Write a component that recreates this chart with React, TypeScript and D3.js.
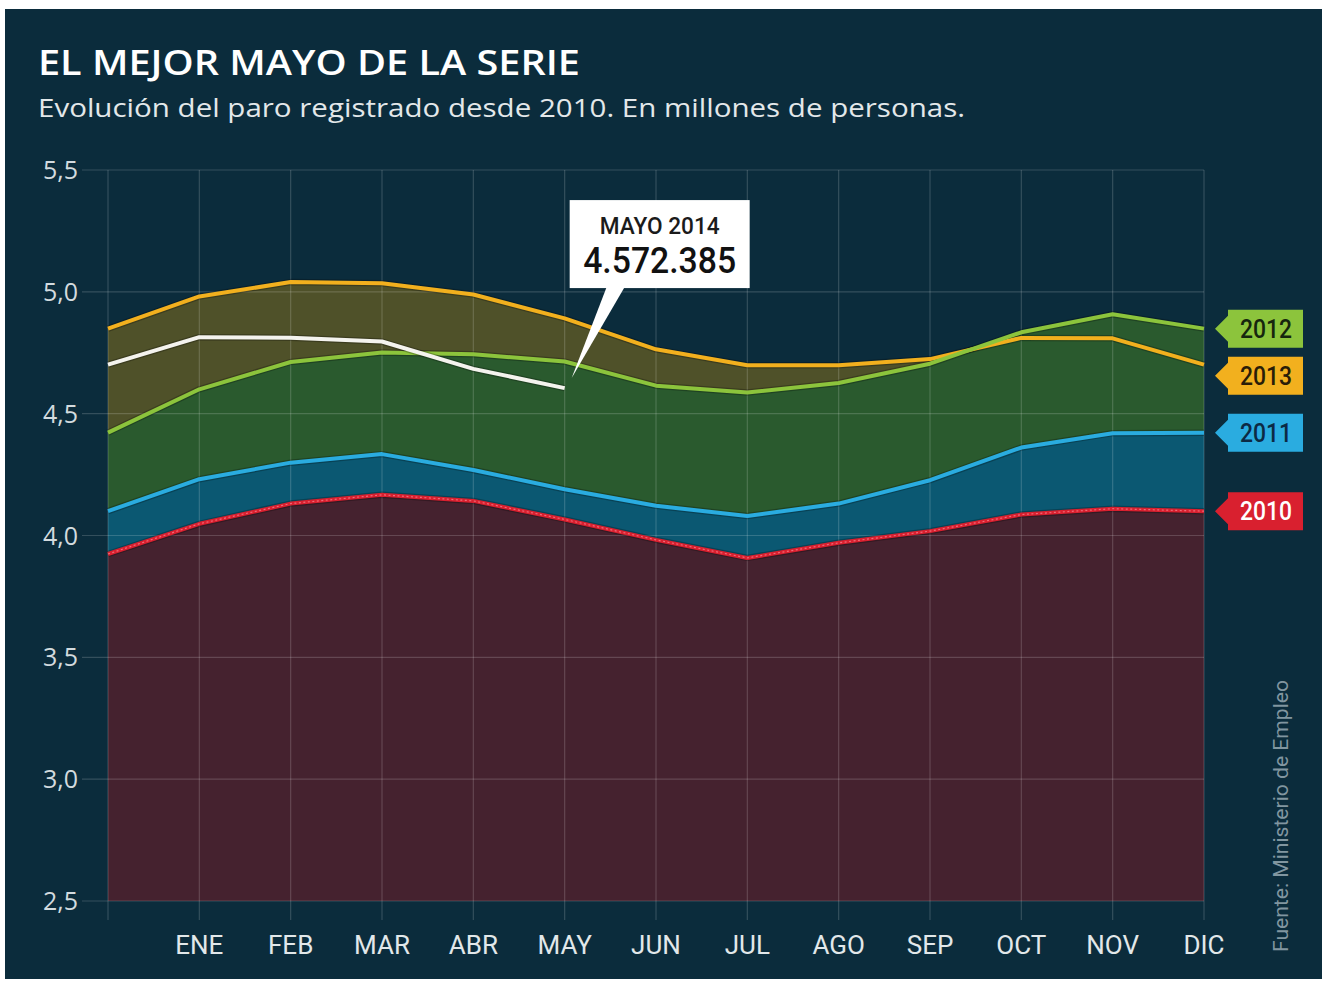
import * as d3 from 'd3';

const MONTHS = ['', 'ENE', 'FEB', 'MAR', 'ABR', 'MAY', 'JUN', 'JUL', 'AGO', 'SEP', 'OCT', 'NOV', 'DIC'];
const Y_TICKS = [2.5, 3, 3.5, 4, 4.5, 5, 5.5];

// millones de personas, dic. del año anterior + ene..dic
const S2010 = [3.924, 4.048, 4.131, 4.167, 4.142, 4.066, 3.982, 3.908, 3.970, 4.018, 4.086, 4.110, 4.100];
const S2011 = [4.100, 4.231, 4.299, 4.334, 4.269, 4.190, 4.122, 4.080, 4.131, 4.227, 4.361, 4.420, 4.422];
const S2012 = [4.422, 4.600, 4.712, 4.751, 4.744, 4.714, 4.615, 4.587, 4.626, 4.705, 4.834, 4.908, 4.849];
const S2013 = [4.849, 4.981, 5.040, 5.035, 4.989, 4.891, 4.764, 4.699, 4.699, 4.724, 4.811, 4.809, 4.701];
const S2014 = [4.701, 4.814, 4.812, 4.796, 4.684, 4.605];

const CALLOUT_TITLE = 'MAYO 2014';
const CALLOUT_VALUE = '4.572.385';

const W = 1326, H = 983;
const COND = 'Roboto, sans-serif';
const SANS = '"Open Sans", Roboto, sans-serif';

const SERIES = [
  { year: '2013', values: S2013, line: '#f2b01e', fill: '#4f5129', text: '#2a1d08' },
  { year: '2012', values: S2012, line: '#8cc43c', fill: '#2a5a2e', text: '#16260e' },
  { year: '2011', values: S2011, line: '#2aace0', fill: '#0b5872', text: '#0c2a44' },
  { year: '2010', values: S2010, line: '#d9202f', fill: '#45222f', text: '#ffffff' },
];

export default function App() {
  const x = d3.scalePoint<string>().domain(MONTHS).range([108, 1204]);
  const y = d3.scaleLinear().domain([2.5, 5.5]).range([901, 170]);

  const line = d3.line<number>().x((_, i) => x(MONTHS[i])!).y((d) => y(d));
  const area = d3.area<number>().x((_, i) => x(MONTHS[i])!).y0(y(2.5)).y1((d) => y(d));

  // right-hand year tags, nudged apart
  const tags = SERIES.map((s) => ({ ...s, cy: y(s.values[s.values.length - 1]) }))
    .sort((a, b) => a.cy - b.cy);
  for (let i = 1; i < tags.length; i++) {
    if (tags[i].cy - tags[i - 1].cy < 47) tags[i].cy = tags[i - 1].cy + 47;
  }

  const tipX = x('MAY')! + 5;
  const tipY = y(S2014[S2014.length - 1]) - 10;
  const bx = tipX, by = tipY - 178, bw = 180, bh = 88;

  return (
    <div style={{ position: 'absolute', left: 0, top: 0 }}>
      <svg width={W} height={H} style={{ display: 'block', background: '#ffffff' }}>
        <rect x={5} y={9} width={1317} height={970} fill="#0b2c3c" />

        <text x={38} y={75} fill="#ffffff" fontFamily={SANS} fontWeight={600} fontSize={35}
          textLength={542} lengthAdjust="spacingAndGlyphs">
          EL MEJOR MAYO DE LA SERIE
        </text>
        <text x={38} y={117} fill="#e3e8ea" fontFamily={SANS} fontSize={26}
          textLength={927} lengthAdjust="spacingAndGlyphs">
          Evolución del paro registrado desde 2010. En millones de personas.
        </text>

        {SERIES.map((s) => (
          <path key={'a' + s.year} d={area(s.values)!} fill={s.fill} />
        ))}

        {/* grid */}
        {Y_TICKS.map((t) => (
          <g key={'y' + t}>
            <line x1={82} x2={1204} y1={y(t)} y2={y(t)} stroke="#ffffff" strokeOpacity={0.17} strokeWidth={1.2} />
            <text x={78} y={y(t) + 9} textAnchor="end" fill="#d3dbdf" fontFamily={SANS} fontSize={25}>
              {d3.format('.1f')(t).replace('.', ',')}
            </text>
          </g>
        ))}
        {MONTHS.map((m) => (
          <g key={'x' + m}>
            <line x1={x(m)} x2={x(m)} y1={170} y2={920} stroke="#ffffff" strokeOpacity={0.17} strokeWidth={1.2} />
            <text x={x(m)} y={954} textAnchor="middle" fill="#e2e8ea" fontFamily={COND} fontSize={26}>
              {m}
            </text>
          </g>
        ))}

        {/* lines */}
        {SERIES.map((s) => (
          <path key={'s' + s.year} d={line(s.values)!} fill="none" stroke="#000000" strokeOpacity={0.25}
            strokeWidth={6.5} strokeLinejoin="round" />
        ))}
        {SERIES.map((s) => (
          <path key={'l' + s.year} d={line(s.values)!} fill="none" stroke={s.line} strokeWidth={4}
            strokeLinejoin="round" />
        ))}
        <path d={line(S2010)!} fill="none" stroke="#f06a78" strokeWidth={1.2} strokeDasharray="2,2.5" />
        <path d={line(S2014)!} fill="none" stroke="#000000" strokeOpacity={0.25} strokeWidth={6.5} strokeLinejoin="round" />
        <path d={line(S2014)!} fill="none" stroke="#f4f3ee" strokeWidth={4} strokeLinejoin="round" />

        {/* callout */}
        <rect x={bx} y={by} width={bw} height={bh} fill="#ffffff" />
        <path d={`M${bx + 37},${by + bh - 1} L${bx + 55},${by + bh - 1} L${tipX + 2},${tipY} Z`} fill="#ffffff" />
        <text x={bx + bw / 2} y={by + 34} textAnchor="middle" fill="#1b1b1b" fontFamily={COND} fontWeight={500}
          fontSize={23} textLength={120} lengthAdjust="spacingAndGlyphs">
          {CALLOUT_TITLE}
        </text>
        <text x={bx + bw / 2} y={by + 73} textAnchor="middle" fill="#111111" fontFamily={COND} fontWeight={500}
          fontSize={37} textLength={153} lengthAdjust="spacingAndGlyphs">
          {CALLOUT_VALUE}
        </text>

        {/* year tags */}
        {tags.map((t) => (
          <g key={'t' + t.year}>
            <path d={`M1215,${t.cy} L1228,${t.cy - 13} L1228,${t.cy - 19} L1303,${t.cy - 19} L1303,${t.cy + 19} L1228,${t.cy + 19} L1228,${t.cy + 13} Z`}
              fill={t.line} />
            <text x={1266} y={t.cy + 9} textAnchor="middle" fill={t.text} fontFamily={COND} fontWeight={500}
              fontSize={25} textLength={52} lengthAdjust="spacingAndGlyphs">
              {t.year}
            </text>
          </g>
        ))}

        <text transform="translate(1288,952) rotate(-90)" fill="#8196a0" fontFamily={COND} fontSize={21}
          textLength={272} lengthAdjust="spacingAndGlyphs">
          Fuente: Ministerio de Empleo
        </text>
      </svg>
    </div>
  );
}
